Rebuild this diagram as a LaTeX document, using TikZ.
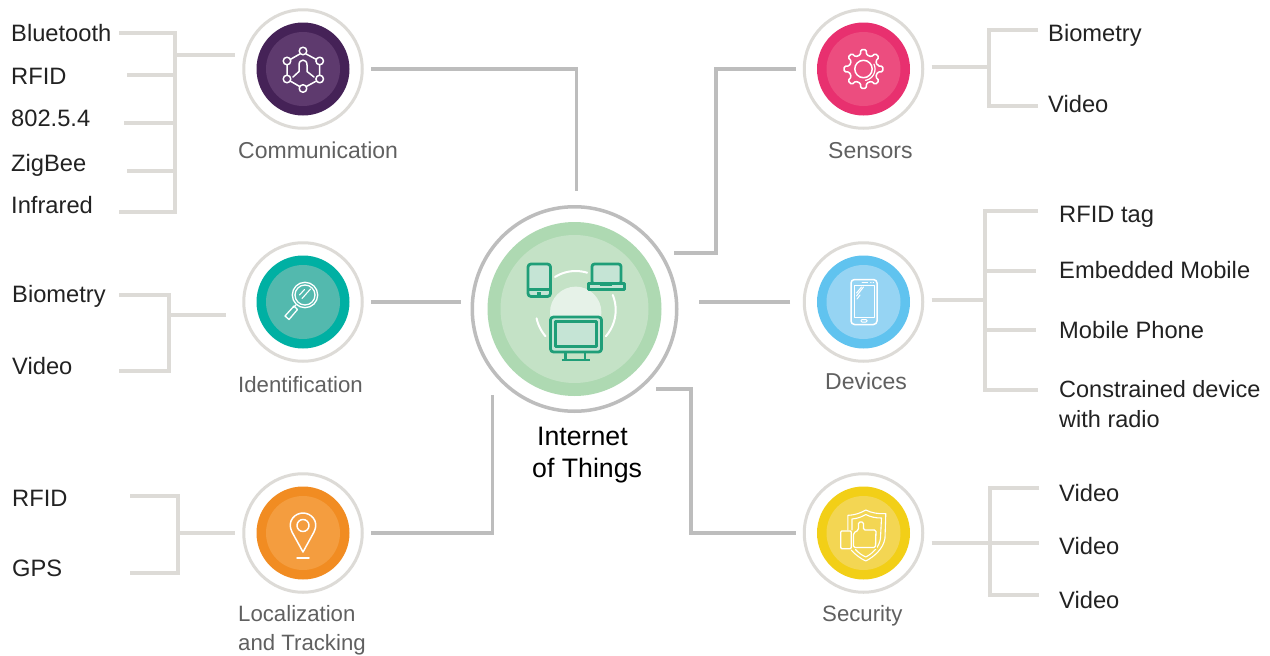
\documentclass[tikz,border=0pt]{standalone}
\usepackage{fontspec}
\setmainfont{Liberation Sans}
\definecolor{commD}{HTML}{452257}\definecolor{commL}{HTML}{5E3A6E}
\definecolor{identD}{HTML}{00B0A3}\definecolor{identL}{HTML}{53B9AE}
\definecolor{locD}{HTML}{F18C22}\definecolor{locL}{HTML}{F49D3F}
\definecolor{sensD}{HTML}{E8306F}\definecolor{sensL}{HTML}{EC4D7F}
\definecolor{devD}{HTML}{60C3EF}\definecolor{devL}{HTML}{96D4F3}
\definecolor{secD}{HTML}{F2CF17}\definecolor{secL}{HTML}{F3D653}
\definecolor{hubD}{HTML}{AED9B2}\definecolor{hubL}{HTML}{C4E2C6}
\definecolor{hubGreen}{HTML}{1F9E78}\definecolor{hubPale}{HTML}{C5E4D5}
\definecolor{hubDome}{HTML}{E6F2E8}
\definecolor{ringGrey}{HTML}{DDDBD7}\definecolor{mainGrey}{HTML}{BDBDBD}
\definecolor{leafInk}{HTML}{222222}\definecolor{labelInk}{HTML}{606060}
\tikzset{
  ringnode/.style={circle,draw=ringGrey,line width=3pt,fill=white,minimum size=118.5pt,inner sep=0pt,outer sep=8.75pt},
  hubnode/.style={circle,draw=mainGrey,line width=3.5pt,fill=white,minimum size=204.5pt,inner sep=0pt,outer sep=11.25pt},
  leaf/.style={anchor=base west,inner sep=0pt,text=leafInk,font=\fontsize{23.7}{30}\selectfont},
  cat/.style={anchor=base west,inner sep=0pt,text=labelInk,font=\fontsize{23}{29}\selectfont},
  catsmall/.style={anchor=base west,inner sep=0pt,text=labelInk,font=\fontsize{22.2}{29}\selectfont},
  catwrap/.style={anchor=north west,inner sep=0pt,text=labelInk,align=left,font=\fontsize{22.2}{29}\selectfont},
  leafwrap/.style={anchor=north west,inner sep=0pt,text=leafInk,align=left,font=\fontsize{23.5}{30}\selectfont},
  hubtext/.style={anchor=north west,inner sep=0pt,text=black,align=left,font=\fontsize{26.7}{32}\selectfont},
  mainline/.style={draw=mainGrey,line width=3.2pt,line join=miter},
  treeline/.style={draw=ringGrey,line width=3.2pt,line join=miter},
  icon/.style={draw=white,line width=1.5pt,line join=round,line cap=round},
  thinicon/.style={draw=white,line width=1pt,line cap=round,line join=round},
  hubicon/.style={draw=hubGreen,line width=2.8pt,line join=round},
  hubarc/.style={draw=white,line width=2pt,line cap=round}
}
\newcommand{\badge}[5]{%
  \node[ringnode] (#1) at (#2,#3) {};
  \fill[#4] (#1.center) circle (46.5);
  \fill[#5] (#1.center) circle (37);
}
\begin{document}
\begin{tikzpicture}[x=1pt,y=-1pt]
\useasboundingbox (0,0) rectangle (1270,656);
\fill[white] (0,0) rectangle (1270,656);

% ---------- hub ----------
\node[hubnode] (hub) at (574.5,309) {};
\fill[hubD] (hub.center) circle (87);
\fill[hubL] (hub.center) circle (74);

% ---------- badges ----------
\badge{comm}{303}{69}{commD}{commL}
\badge{ident}{303}{302}{identD}{identL}
\badge{loc}{303}{533}{locD}{locL}
\badge{sens}{863.5}{69}{sensD}{sensL}
\badge{dev}{863.5}{302}{devD}{devL}
\badge{sec}{863.5}{533}{secD}{secL}

% ---------- main connectors ----------
\coordinate (sbend) at (716,253);
\coordinate (secbend) at (691,389);
\draw[mainline,shorten >=4.5pt] (comm.east) -| (hub.89.2);
\draw[mainline] (ident.east) -- (hub.west |- ident.east);
\draw[mainline,shorten >=7pt] (loc.east) -| (hub.224);
\draw[mainline] (sens.west) -| (sbend) -- (hub.29.5 |- sbend);
\draw[mainline,shorten >=11pt,shorten <=5.5pt] (dev.west) -- (hub.east |- dev.west);
\draw[mainline] (hub.-44.5 |- secbend) -- (secbend) |- (sec.west);

% ---------- hub icon ----------
\fill[hubDome] (575.7,312.3) circle (25.7);
\draw[hubarc] plot[smooth,domain=238:287,samples=12] ({575.7+39*cos(\x)},{310+39*sin(\x)});
\draw[hubarc] plot[smooth,domain=139:168,samples=8] ({575.7+40*cos(\x)},{310+40*sin(\x)});
\draw[hubarc] plot[smooth,domain=-22:41,samples=12] ({575.7+40*cos(\x)},{310+40*sin(\x)});
% tablet
\draw[hubicon,fill=hubPale,rounded corners=3pt] (528,264) rectangle (550.5,296.5);
\fill[hubGreen] (528,287.5) rectangle (550.5,291);
\fill[hubGreen] (537,292) rectangle (541,295);
% laptop
\draw[hubicon,fill=hubPale,rounded corners=2.5pt] (592,264) rectangle (621,284);
\draw[hubicon,fill=hubPale] (588.5,283.5) -- (624.5,283.5) -- (624.5,289.5) -- (588.5,289.5) -- cycle;
\fill[hubGreen] (600,282) rectangle (612,286);
% monitor
\draw[hubicon,fill=hubPale,rounded corners=3pt] (550.5,317) rectangle (601.5,352);
\draw[hubicon,fill=hubPale] (555.5,321.5) rectangle (596.5,346.5);
\draw[hubicon] (565.5,353) -- (565.5,360) (585,353) -- (585,360);
\draw[hubicon] (561.7,360) -- (590,360);

% ---------- communication icon ----------
\begin{scope}[shift={(303,69)}]
  \draw[thinicon,line width=1.5pt] (-3.2,-15) -- (-12.8,-9.5) (3.2,-15) -- (13.4,-9.5)
     (16.7,-4) -- (16.7,6) (13.4,12) -- (3.3,17.5) (-3.3,17.5) -- (-12.8,12) (-16,-4) -- (-16,6);
  \foreach \p in {(0,-18),(16.7,-8),(16.7,10),(0,19.5),(-16,10),(-16,-8)}
    \draw[thinicon,line width=1.5pt] \p circle (3.8);
  \draw[thinicon,line width=1.5pt] (-10,8) -- (-4,2.5) -- (-4,-4) .. controls (-4,-10.5) and (4,-10.5) .. (4,-4) -- (4,2.5) -- (11,8);
\end{scope}

% ---------- identification icon ----------
\begin{scope}[shift={(303,302)}]
  \draw[thinicon,line width=1.3pt] (2,-7) circle (12.7);
  \draw[thinicon,line width=1.3pt] (2,-7) circle (10);
  \draw[thinicon,line width=1.1pt] (-3.5,-7) -- (1.5,-12.5) (-1,-3.5) -- (7.5,-13);
  \draw[thinicon,line width=1.3pt] (-7,3) -- (-9.5,5.5);
  \draw[thinicon,line width=1.3pt] (-9,4) -- (-5.5,7.5) -- (-14,17.5) -- (-18,14) -- cycle;
\end{scope}

% ---------- location icon ----------
\begin{scope}[shift={(303,533)}]
  \draw[icon] (0,19) -- (-11,-1) .. controls (-16.5,-12) and (-8,-20) .. (0,-20) .. controls (8,-20) and (16.5,-12) .. (11,-1) -- cycle;
  \draw[icon] (0,-7.5) circle (6);
  \draw[icon] (-6,25) -- (6,25);
\end{scope}

% ---------- gear icon ----------
\begin{scope}[shift={(863.5,69)}]
  \draw[icon,rounded corners=1.3pt] (-12:14.5)
    \foreach \a in {0,45,...,315} { -- (\a-12:14.5) -- (\a-8:19.5) -- (\a+8:19.5) -- (\a+12:14.5) } -- cycle;
  \draw[icon] (0,0) circle (8.7);
  \draw[thinicon,line width=1.2pt] plot[smooth,domain=-25:80,samples=12] ({11.5*cos(\x)},{11.5*sin(\x)});
\end{scope}

% ---------- phone icon ----------
\begin{scope}[shift={(863.5,302)}]
  \draw[icon,rounded corners=3.5pt] (-12.5,-22.5) rectangle (13.5,22.5);
  \draw[thinicon] (-9,-17) rectangle (11,15.5);
  \draw[thinicon,rounded corners=1pt] (-2.5,17.5) rectangle (3.5,20);
  \draw[thinicon] (-1.5,-20) -- (4,-20) (7,-20) -- (7.5,-20) (9.5,-20) -- (10,-20);
  \draw[thinicon] (-7,-9) -- (-2,-15) (-7,-6) -- (0,-15) (-6.5,-3) -- (-3.5,-7);
\end{scope}

% ---------- security icon ----------
\begin{scope}[shift={(863.5,533)}]
  \draw[thinicon,line width=1.1pt] (-15.7,-3) -- (-15.7,-17.7) .. controls (-8,-18) and (-3,-20) .. (2.3,-23)
     .. controls (8,-20) and (15,-19) .. (22.3,-19.3) -- (21.5,5) .. controls (20,16) and (10,24) .. (2.3,28) .. controls (-2,26) and (-8,22) .. (-12.3,17);
  \draw[thinicon,line width=1.1pt] (-11.5,-3) -- (-11.5,-14) .. controls (-6,-14.5) and (-2,-16) .. (2.3,-18.5)
     .. controls (7,-16) and (12,-15) .. (18,-15) -- (17,5) .. controls (16,14) and (9,20.5) .. (2.3,24) .. controls (-1,22.5) and (-5,20) .. (-8,16.5);
  \fill[secL] (-11,-2) rectangle (13,15.5);
  \draw[thinicon,line width=1.3pt,rounded corners=1pt] (-22.7,-2) rectangle (-12.3,15.7);
  \draw[thinicon,line width=1.3pt,rounded corners=1.5pt] (-10,14.5) -- (-10,0) -- (-5,-3) -- (-5,-11) -- (0,-11) -- (0,-3) -- (12.5,-3) -- (12,14.5) -- cycle;
\end{scope}

% ---------- leaves: communication ----------
\node[leaf] (nBt) at (11,41) {Bluetooth};
\node[leaf] (nRf) at (11,84) {RFID};
\node[leaf] (n80) at (11,126.5) {802.5.4};
\node[leaf] (nZb) at (11,171) {ZigBee};
\node[leaf] (nIr) at (11,213) {Infrared};
\coordinate (t1a) at (119,33); \coordinate (t1b) at (127,75); \coordinate (t1c) at (124,123);
\coordinate (t1d) at (127,171); \coordinate (t1e) at (119,212);
\coordinate (t1j) at (175,55); \coordinate (t1t) at (175,33); \coordinate (t1u) at (175,212);
\draw[treeline] (t1a) -- (t1t) -- (t1u) -- (t1e);
\draw[treeline] (t1b) -- (t1b -| t1t) (t1c) -- (t1c -| t1t) (t1d) -- (t1d -| t1t);
\draw[treeline] (t1j) -- (comm.west |- t1j);

% ---------- leaves: identification ----------
\node[leaf] (nBi) at (12,302) {Biometry};
\node[leaf] (nVi) at (12,374) {Video};
\coordinate (t2a) at (119,295); \coordinate (t2b) at (119,371);
\coordinate (t2t) at (169,295); \coordinate (t2u) at (169,371); \coordinate (t2j) at (169,315);
\draw[treeline,shorten >=9pt] (t2j) -- (ident.west |- t2j);
\draw[treeline] (t2a) -- (t2t) -- (t2u) -- (t2b);

% ---------- leaves: localization ----------
\node[leaf] (nLr) at (12,506) {RFID};
\node[leaf] (nLg) at (12,576) {GPS};
\coordinate (t3a) at (130,496); \coordinate (t3b) at (130,573);
\coordinate (t3t) at (178,496); \coordinate (t3u) at (178,573); \coordinate (t3j) at (178,533);
\draw[treeline] (t3a) -- (t3t) -- (t3u) -- (t3b);
\draw[treeline] (t3j) -- (loc.west);

% ---------- leaves: sensors ----------
\node[leaf] (nSb) at (1048,41) {Biometry};
\node[leaf] (nSv) at (1048,112) {Video};
\coordinate (t4a) at (1038,30); \coordinate (t4b) at (1038,106);
\coordinate (t4t) at (989,30); \coordinate (t4u) at (989,106); \coordinate (t4j) at (989,67);
\draw[treeline] (t4a) -- (t4t) -- (t4u) -- (t4b);
\draw[treeline] (sens.east |- t4j) -- (t4j);

% ---------- leaves: devices ----------
\node[leaf] (nDr) at (1059,222) {RFID tag};
\node[leaf] (nDe) at (1059,278) {Embedded Mobile};
\node[leaf] (nDm) at (1059,338) {Mobile Phone};
\node[leafwrap] (nDc) at (1059,380) {Constrained device\\with radio};
\coordinate (t5a) at (1038,211); \coordinate (t5b) at (1036,271); \coordinate (t5c) at (1036,330); \coordinate (t5d) at (1038,390);
\coordinate (t5t) at (985,211); \coordinate (t5u) at (985,390); \coordinate (t5j) at (985,300);
\draw[treeline] (t5a) -- (t5t) -- (t5u) -- (t5d);
\draw[treeline] (t5b -| t5t) -- (t5b) (t5c -| t5t) -- (t5c);
\draw[treeline] (dev.east |- t5j) -- (t5j);

% ---------- leaves: security ----------
\node[leaf] (nVa) at (1059,501) {Video};
\node[leaf] (nVb) at (1059,554) {Video};
\node[leaf] (nVc) at (1059,608) {Video};
\coordinate (t6a) at (1039,488); \coordinate (t6b) at (1039,543); \coordinate (t6c) at (1039,595);
\coordinate (t6t) at (990,488); \coordinate (t6u) at (990,595); \coordinate (t6j) at (990,543);
\draw[treeline] (t6a) -- (t6t) -- (t6u) -- (t6c);
\draw[treeline] (sec.east |- t6j) -- (t6b);

% ---------- labels ----------
\node[cat] (lComm) at (238,158) {Communication};
\node[catsmall] (lIdent) at (238,392) {Identification};
\node[catwrap] (lLoc) at (238,605) {Localization\\and Tracking};
\node[cat] (lSens) at (828,158) {Sensors};
\node[cat] (lDev) at (825,389) {Devices};
\node[catsmall] (lSec) at (822,621) {Security};
\node[hubtext] (lHub) at (532,427) {\hspace*{5pt}Internet\\of Things};
\end{tikzpicture}
\end{document}
